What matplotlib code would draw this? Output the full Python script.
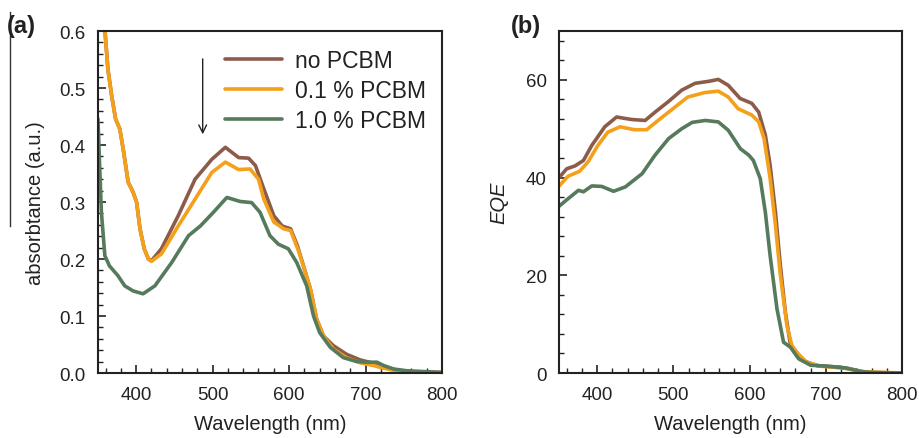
import matplotlib
matplotlib.use("Agg")
import matplotlib.pyplot as plt
from matplotlib.ticker import MultipleLocator, FormatStrFormatter
from matplotlib.lines import Line2D

plt.rcParams['font.family'] = ['Liberation Sans', 'DejaVu Sans']

labels = ["no PCBM", "0.1 % PCBM", "1.0 % PCBM"]
colors = ["#8c5b4a", "#f5a01a", "#557a5c"]

# Panel (a): absorbance
wl_a_top = [359, 363, 368, 373, 378.6, 383, 389.5, 396, 400.5, 405, 410.5, 416, 420, 433, 455, 477, 499,
            516.7, 534, 547, 556, 567, 580, 591, 602, 611, 628, 636, 645, 658, 675, 693, 711, 719, 732,
            745, 767, 800]
abs_none = [0.603, 0.533, 0.486, 0.446, 0.428, 0.393, 0.335, 0.317, 0.300, 0.253, 0.218, 0.200, 0.197,
            0.218, 0.276, 0.340, 0.375, 0.396, 0.378, 0.377, 0.364, 0.323, 0.276, 0.258, 0.253, 0.223,
            0.147, 0.095, 0.065, 0.048, 0.033, 0.023, 0.017, 0.013, 0.008, 0.004, 0.002, 0.001]
wl_a_o = [359, 363, 368, 373, 378.6, 383, 389.5, 396, 400.5, 405, 410.5, 416, 420, 433, 455, 484, 499,
          516.7, 534, 549, 560, 567, 580, 593, 602, 613, 628, 636, 645, 658, 675, 693, 711, 719, 732,
          745, 767, 800]
abs_01 = [0.603, 0.533, 0.486, 0.446, 0.428, 0.393, 0.335, 0.317, 0.300, 0.253, 0.218, 0.200, 0.196,
          0.209, 0.258, 0.320, 0.352, 0.370, 0.357, 0.358, 0.340, 0.305, 0.265, 0.253, 0.250, 0.212,
          0.147, 0.095, 0.065, 0.042, 0.027, 0.018, 0.013, 0.010, 0.006, 0.003, 0.001, 0.0]
wl_a_g = [350, 352, 354.5, 359, 365, 376, 385, 396, 409, 424.5, 446.5, 468.5, 484, 501, 518.6, 536,
          551, 562, 575, 586, 599, 610, 623, 632, 640, 654, 671, 689, 702, 715, 724, 737, 754, 800]
abs_10 = [0.446, 0.370, 0.282, 0.206, 0.188, 0.171, 0.153, 0.144, 0.139, 0.153, 0.194, 0.241, 0.258,
          0.282, 0.308, 0.301, 0.299, 0.282, 0.241, 0.226, 0.218, 0.194, 0.153, 0.100, 0.071, 0.045,
          0.027, 0.020, 0.019, 0.019, 0.013, 0.007, 0.004, 0.001]

# Panel (b): EQE
wl_b = [349, 360, 371, 382, 393, 410, 425.5, 445, 463, 476, 493, 511, 528.5, 546, 559, 572, 587.6,
        603, 612, 620.7, 627, 634, 640.4, 647, 653.5, 660, 671, 688.7, 719, 736, 754, 800]
eqe_none = [39.8, 41.8, 42.4, 43.5, 46.6, 50.4, 52.4, 51.9, 51.7, 53.4, 55.5, 57.9, 59.3, 59.7, 60.1,
            58.9, 56.2, 55.2, 53.4, 48.7, 42.5, 32.9, 22.0, 12.4, 5.9, 4.6, 2.5, 1.5, 1.2, 0.7, 0.1, 0.0]
wl_b_o = [349, 362, 377, 388, 401, 414, 430, 449, 465, 480, 497, 519, 541, 559, 572, 585, 603, 612,
          619, 627, 634, 640, 649, 655.6, 662, 675, 693, 724, 746, 800]
eqe_01 = [38.1, 40.3, 41.3, 43.2, 46.6, 49.3, 50.4, 49.8, 49.8, 51.7, 53.8, 56.5, 57.4, 57.7, 56.5,
          54.1, 52.8, 51.4, 48.0, 39.8, 30.2, 20.6, 9.7, 5.6, 4.2, 2.2, 1.4, 1.0, 0.3, 0.0]
wl_b_g = [349, 362, 375.5, 382, 393, 406, 421.5, 437, 459, 476, 493.8, 511, 524.6, 542, 559, 572, 588,
          599, 605, 614, 620.7, 627, 636, 644.6, 653.5, 664.5, 680, 702, 728, 746, 763, 800]
eqe_10 = [34.0, 35.7, 37.4, 37.1, 38.3, 38.2, 37.2, 38.1, 40.8, 44.6, 48.0, 50.0, 51.3, 51.7, 51.4,
          49.7, 45.9, 44.6, 43.5, 39.8, 32.9, 24.0, 13.1, 6.3, 5.3, 2.9, 1.6, 1.4, 1.0, 0.3, 0.1, 0.0]

fig = plt.figure(figsize=(9.19, 4.39), dpi=100)
ax1 = fig.add_axes([0.1066, 0.148, 0.3743, 0.779])
ax2 = fig.add_axes([0.6083, 0.148, 0.3732, 0.779])

style = dict(lw=2.6, solid_joinstyle='round', solid_capstyle='round')
ax1.plot(wl_a_top, abs_none, color=colors[0], label=labels[0], **style)
ax1.plot(wl_a_o, abs_01, color=colors[1], label=labels[1], **style)
ax1.plot(wl_a_g, abs_10, color=colors[2], label=labels[2], **style)

ax2.plot(wl_b, eqe_none, color=colors[0], **style)
ax2.plot(wl_b_o, eqe_01, color=colors[1], **style)
ax2.plot(wl_b_g, eqe_10, color=colors[2], **style)

for ax in (ax1, ax2):
    ax.set_xlim(350, 800)
    ax.xaxis.set_major_locator(MultipleLocator(100))
    ax.xaxis.set_minor_locator(MultipleLocator(20))
    ax.tick_params(which='both', direction='in', top=False, right=False, labelsize=13.5, colors='#222222')
    ax.tick_params(which='major', length=6, width=1.2, pad=9)
    ax.tick_params(which='minor', length=3.5, width=1.0)
    for s in ax.spines.values():
        s.set_linewidth(1.5)
        s.set_color('#222222')
    ax.set_xlabel("Wavelength (nm)", fontsize=14.5, color='#222222', labelpad=8)

ax1.set_ylim(0, 0.6)
ax1.yaxis.set_major_locator(MultipleLocator(0.1))
ax1.yaxis.set_minor_locator(MultipleLocator(0.02))
ax1.yaxis.set_major_formatter(FormatStrFormatter('%.1f'))
ax1.set_ylabel("absorbtance (a.u.)", fontsize=14.5, color='#222222', labelpad=10)

ax2.set_ylim(0, 70)
ax2.yaxis.set_major_locator(MultipleLocator(20))
ax2.yaxis.set_minor_locator(MultipleLocator(4))
ax2.set_ylabel("EQE", fontsize=14.5, style='italic', color='#222222', labelpad=12)

leg = ax1.legend(loc='upper right', bbox_to_anchor=(1.0, 0.995), frameon=False, fontsize=16.5,
                 handlelength=2.5, handletextpad=0.55, labelspacing=0.3, borderaxespad=0.3)
for t in leg.get_texts():
    t.set_color('#222222')

ax1.annotate("", xy=(487, 0.414), xytext=(487, 0.556),
             arrowprops=dict(arrowstyle='->', color='#222222', lw=1.0, mutation_scale=14))

fig.text(0.008, 0.94, "(a)", fontsize=17, fontweight='bold', color='#222222', va='center')
fig.text(0.556, 0.94, "(b)", fontsize=17, fontweight='bold', color='#222222', va='center')
fig.add_artist(Line2D([0.011, 0.011], [1 - 13/439, 1 - 227/439], color='#333333', lw=1.0))

fig.savefig("out.png", dpi=100, facecolor='white')
